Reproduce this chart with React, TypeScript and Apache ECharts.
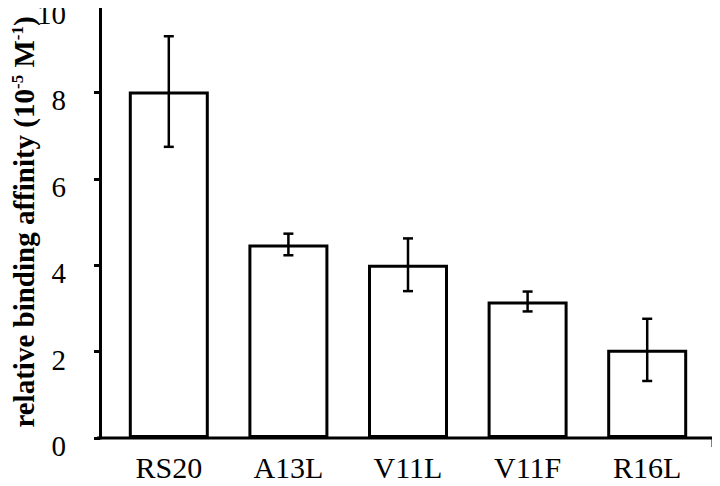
import React, { useEffect, useRef } from "react";
import * as echarts from "echarts";

const categories = ["RS20", "A13L", "V11L", "V11F", "R16L"];
const values = [8.02, 4.48, 4.01, 3.16, 2.04];
const errors = [1.28, 0.25, 0.61, 0.23, 0.72];
const yTicks = [0, 2, 4, 6, 8, 10];

const FONT = "'Liberation Serif', 'Times New Roman', serif";

export default function App() {
  const ref = useRef<HTMLDivElement>(null);
  useEffect(() => {
    const chart = echarts.init(ref.current!, null, { renderer: "svg" });
    const errData = values.map((v, i) => [i, v - errors[i], v + errors[i]]);
    chart.setOption({
      animation: false,
      backgroundColor: "#ffffff",
      grid: { left: 109, right: 13, top: 6, bottom: 48, outerBoundsMode: "none", containLabel: false },
      xAxis: {
        type: "category",
        data: categories,
        axisLine: { show: false },
        axisTick: { show: false },
        axisLabel: {
          color: "#000",
          fontFamily: FONT,
          fontSize: 30,
          margin: 14,
        },
      },
      yAxis: {
        type: "value",
        min: yTicks[0],
        max: yTicks[yTicks.length - 1],
        interval: 2,
        offset: 9,
        splitLine: { show: false },
        axisLine: { show: true, lineStyle: { color: "#000", width: 3 } },
        axisTick: { show: true, length: 6, lineStyle: { color: "#000", width: 3 } },
        axisLabel: {
          color: "#000",
          fontFamily: FONT,
          fontSize: 29,
          margin: 34,
          verticalAlign: "top",
          lineHeight: 16,
        },
        name: "{a|relative binding affinity (10}{s|-5}{a| M}{s|-1}{a|)}",
        nameLocation: "middle",
        nameRotate: 90,
        nameGap: 62,
        nameMoveOverlap: false,
        nameTextStyle: {
          rich: {
            a: { fontFamily: FONT, fontSize: 29, fontWeight: "bold", color: "#000" },
            s: { fontFamily: FONT, fontSize: 17, fontWeight: "bold", color: "#000", verticalAlign: "top" },
          },
        },
      },
      graphic: [
        {
          type: "polyline",
          shape: { points: [[97, 438], [713, 438], [713, 447]] },
          style: { stroke: "#000", lineWidth: 3, fill: null },
          z: 100,
        },
      ],
      series: [
        {
          type: "bar",
          data: values,
          barWidth: 80,
          itemStyle: { color: "#ffffff", borderColor: "#000", borderWidth: 3 },
        },
        {
          type: "custom",
          data: errData,
          z: 10,
          renderItem: (params: any, api: any) => {
            const idx = api.value(0);
            const lo = api.coord([idx, api.value(1)]);
            const hi = api.coord([idx, api.value(2)]);
            const x = lo[0];
            const half = 5;
            const style = { stroke: "#000", lineWidth: 2.5 };
            return {
              type: "group",
              children: [
                { type: "line", shape: { x1: x, y1: lo[1], x2: x, y2: hi[1] }, style },
                { type: "line", shape: { x1: x - half, y1: lo[1], x2: x + half, y2: lo[1] }, style },
                { type: "line", shape: { x1: x - half, y1: hi[1], x2: x + half, y2: hi[1] }, style },
              ],
            };
          },
        },
      ],
    });
    return () => chart.dispose();
  }, []);
  return <div ref={ref} style={{ width: 720, height: 486, margin: -8 }} />;
}
